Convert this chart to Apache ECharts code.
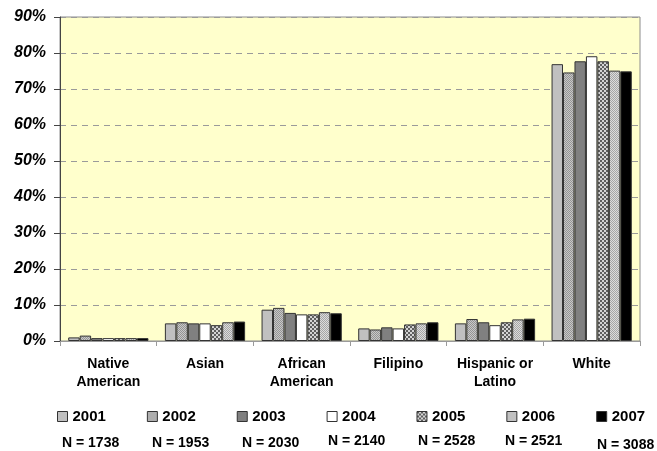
<!DOCTYPE html>
<html>
<head>
<meta charset="utf-8">
<script src="https://cdn.jsdelivr.net/npm/echarts@6/dist/echarts.min.js"></script>
<style>
  html, body { margin: 0; padding: 0; background: #fff; }
  #chart { width: 657px; height: 451px; }
</style>
</head>
<body>
<div id="chart"></div>
<script>
// categories and yearly shares (%)
const categories = ['Native\nAmerican', 'Asian', 'African\nAmerican', 'Filipino', 'Hispanic or\nLatino', 'White'];
const years = ['2001', '2002', '2003', '2004', '2005', '2006', '2007'];
const v2001 = [1.0, 4.9, 8.7, 3.5, 4.9, 76.9];
const v2002 = [1.5, 5.2, 9.2, 3.2, 6.1, 74.6];
const v2003 = [0.8, 4.9, 7.8, 3.8, 5.2, 77.7];
const v2004 = [0.8, 4.9, 7.4, 3.5, 4.4, 79.1];
const v2005 = [0.8, 4.4, 7.4, 4.6, 5.2, 77.7];
const v2006 = [0.8, 5.2, 8.0, 4.9, 6.0, 75.1];
const v2007 = [0.8, 5.4, 7.7, 5.2, 6.2, 74.9];
const nLabels = ['N = 1738', 'N = 1953', 'N = 2030', 'N = 2140', 'N = 2528', 'N = 2521', 'N = 3088'];
const yTicks = [0, 10, 20, 30, 40, 50, 60, 70, 80, 90];

// small checker fills to mimic the hatched bars
const checker = (a, b, cell) => {
  const c = document.createElement('canvas');
  c.width = c.height = cell * 2;
  const ctx = c.getContext('2d');
  ctx.fillStyle = a;
  ctx.fillRect(0, 0, cell * 2, cell * 2);
  ctx.fillStyle = b;
  ctx.fillRect(0, 0, cell, cell);
  ctx.fillRect(cell, cell, cell, cell);
  return { image: c, repeat: 'repeat' };
};

const fills = [
  '#c0c0c0',
  checker('#c8c8c8', '#949494', 1),
  '#808080',
  '#ffffff',
  checker('#d4d4d4', '#5e5e5e', 2),
  checker('#dcdcdc', '#a6a6a6', 1),
  '#000000',
];
const values = [v2001, v2002, v2003, v2004, v2005, v2006, v2007];

const chart = echarts.init(document.getElementById('chart'), null, { renderer: 'canvas' });

// left / vertical centre of the N = ... notes under the legend
const nPos = [[62, 444], [152, 444], [242, 444], [328, 442], [418, 442], [505, 442], [597, 446]];

chart.setOption({
  animation: false,
  backgroundColor: '#ffffff',
  textStyle: { fontFamily: 'Liberation Sans, Arial, sans-serif' },
  grid: {
    left: 60, right: 17, top: 17, bottom: 110,
    show: true,
    backgroundColor: '#ffffcc',
    borderColor: '#8c8c8c',
    borderWidth: 1,
  },
  legend: {
    data: years,
    left: 52,
    top: 404,
    width: 620,
    itemWidth: 10,
    itemHeight: 10,
    itemGap: 41,
    icon: 'rect',
    itemStyle: { borderWidth: 1, borderColor: '#333' },
    textStyle: { fontSize: 15, fontWeight: 'bold', color: '#000' },
  },
  xAxis: {
    type: 'category',
    data: categories,
    axisLine: { lineStyle: { color: '#9a9a9a', width: 1 } },
    axisTick: { show: true, length: 5, lineStyle: { color: '#9a9a9a' } },
    axisLabel: {
      margin: 14,
      fontSize: 14,
      fontWeight: 'bold',
      color: '#000',
      lineHeight: 18,
      interval: 0,
    },
  },
  yAxis: {
    type: 'value',
    min: 0,
    max: 90,
    interval: 10,
    axisLine: { show: true, lineStyle: { color: '#444', width: 1 } },
    axisTick: { show: true, length: 6, lineStyle: { color: '#444' } },
    axisLabel: {
      margin: 14,
      fontSize: 16,
      fontWeight: 'bold',
      fontStyle: 'italic',
      color: '#000',
      formatter: (v) => (yTicks.includes(v) ? v + '%' : ''),
    },
    splitLine: { show: true, lineStyle: { color: '#9a9a9a', type: [6, 5], width: 1 } },
  },
  series: years.map((y, i) => ({
    name: y,
    type: 'bar',
    data: values[i],
    barGap: '0%',
    barCategoryGap: '17%',
    itemStyle: { color: fills[i], borderColor: '#333', borderWidth: 1 },
  })),
  graphic: nLabels.map((t, i) => ({
    type: 'text',
    left: nPos[i][0],
    top: nPos[i][1] - 8,
    style: { text: t, fontSize: 14, fontWeight: 'bold', fill: '#000', fontFamily: 'Liberation Sans, Arial, sans-serif' },
  })),
});
</script>
</body>
</html>
